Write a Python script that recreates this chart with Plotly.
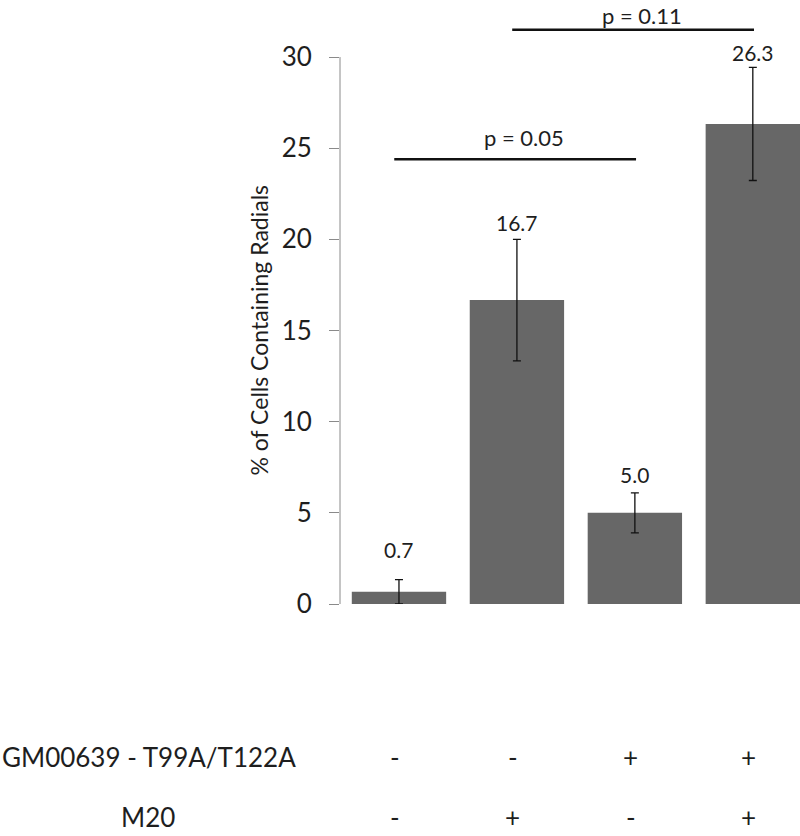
import plotly.graph_objects as go

# ---- data ----
conditions = ["c1", "c2", "c3", "c4"]
pct_radials = [0.67, 16.67, 5.0, 26.33]
pct_error = [0.67, 3.33, 1.1, 3.1]
value_labels = ["0.7", "16.7", "5.0", "26.3"]
gm_row = ["-", "-", "+", "+"]
m20_row = ["-", "+", "-", "+"]
row_names = ["GM00639 - T99A/T122A", "M20"]
bracket_pairs = [(0, 2), (1, 3)]
bracket_heights = [24.4, 31.5]
bracket_texts = ["p = 0.05", "p = 0.11"]
y_ticks = [0, 5, 10, 15, 20, 25, 30]

# ---- style ----
FONT = "Lato"
TXT = "#1e1e1e"
BAR = "#676767"
AXC = "#8a8a8a"
label_shift = [16, 2, 4, 0]

xs = list(range(len(conditions)))

fig = go.Figure()
fig.add_trace(go.Bar(
    x=xs, y=pct_radials, width=0.8,
    marker=dict(color=BAR, line=dict(width=0)),
    error_y=dict(type="data", array=pct_error, visible=True,
                 color="#111111", thickness=1.3, width=4),
    hoverinfo="skip", showlegend=False,
))

annotations = []
for i, (v, e, t) in enumerate(zip(pct_radials, pct_error, value_labels)):
    annotations.append(dict(x=i, y=v + e, xref="x", yref="y", text=t,
                            showarrow=False, yanchor="bottom", yshift=label_shift[i],
                            font=dict(family=FONT, size=21, color=TXT)))

shapes = []
for k, ((a, b), h, t) in enumerate(zip(bracket_pairs, bracket_heights, bracket_texts)):
    shapes.append(dict(type="line", xref="x", yref="y", x0=a - 0.04, x1=b + 0.01,
                       y0=h, y1=h, line=dict(color="#111111", width=2.5)))
    if k == 0:
        annotations.append(dict(x=(a + b) / 2, y=h, xref="x", yref="y", text=t,
                                showarrow=False, yanchor="bottom", yshift=6, xshift=7,
                                font=dict(family=FONT, size=22, color=TXT)))
    else:
        # top bracket label sits against the top edge of the figure
        annotations.append(dict(x=(a + b) / 2, y=1, xref="x", yref="paper", text=t,
                                showarrow=False, yanchor="top", xshift=7,
                                font=dict(family=FONT, size=22, color=TXT)))

# y axis line from 0 to 30 only
shapes.append(dict(type="line", xref="paper", yref="y", x0=0, x1=0,
                   y0=y_ticks[0], y1=y_ticks[-1], line=dict(color=AXC, width=1)))

# y axis title
annotations.append(dict(x=-81 / 460, y=15, xref="paper", yref="y",
                        text="% of Cells Containing Radials", textangle=-90,
                        showarrow=False, xanchor="center", yanchor="middle",
                        font=dict(family=FONT, size=23, color=TXT)))

# condition rows below the chart
row_y = [-153 / 604, -213 / 604]
for r, (row, ry) in enumerate(zip([gm_row, m20_row], row_y)):
    for i, s in enumerate(row):
        annotations.append(dict(x=i, y=ry, xref="x", yref="paper", text=s,
                                showarrow=False, yanchor="middle", xshift=-4,
                                font=dict(family=FONT, size=26, color=TXT)))
annotations.append(dict(x=-340 / 460, y=row_y[0], xref="paper", yref="paper",
                        text=row_names[0], showarrow=False, xanchor="left",
                        yanchor="middle", font=dict(family=FONT, size=26, color=TXT)))
annotations.append(dict(x=(148 - 340) / 460, y=row_y[1], xref="paper", yref="paper",
                        text=row_names[1], showarrow=False, xanchor="center",
                        yanchor="middle", font=dict(family=FONT, size=26, color=TXT)))

fig.update_layout(
    width=800, height=836,
    margin=dict(l=340, r=0, t=0, b=232),
    paper_bgcolor="white", plot_bgcolor="white",
    shapes=shapes, annotations=annotations,
    xaxis=dict(range=[-0.5, 3.4], showticklabels=False, showline=False,
               showgrid=False, zeroline=False, ticks=""),
    yaxis=dict(range=[0, 33.13], tickvals=y_ticks, ticks="outside", ticklen=10,
               tickcolor=AXC, tickwidth=1, showline=False, showgrid=False,
               zeroline=False, ticklabelstandoff=12,
               tickfont=dict(family=FONT, size=26, color=TXT)),
)

fig.write_html("out.html", config={"displayModeBar": False},
               post_script="document.body.style.margin='0';document.body.style.overflow='hidden';")
